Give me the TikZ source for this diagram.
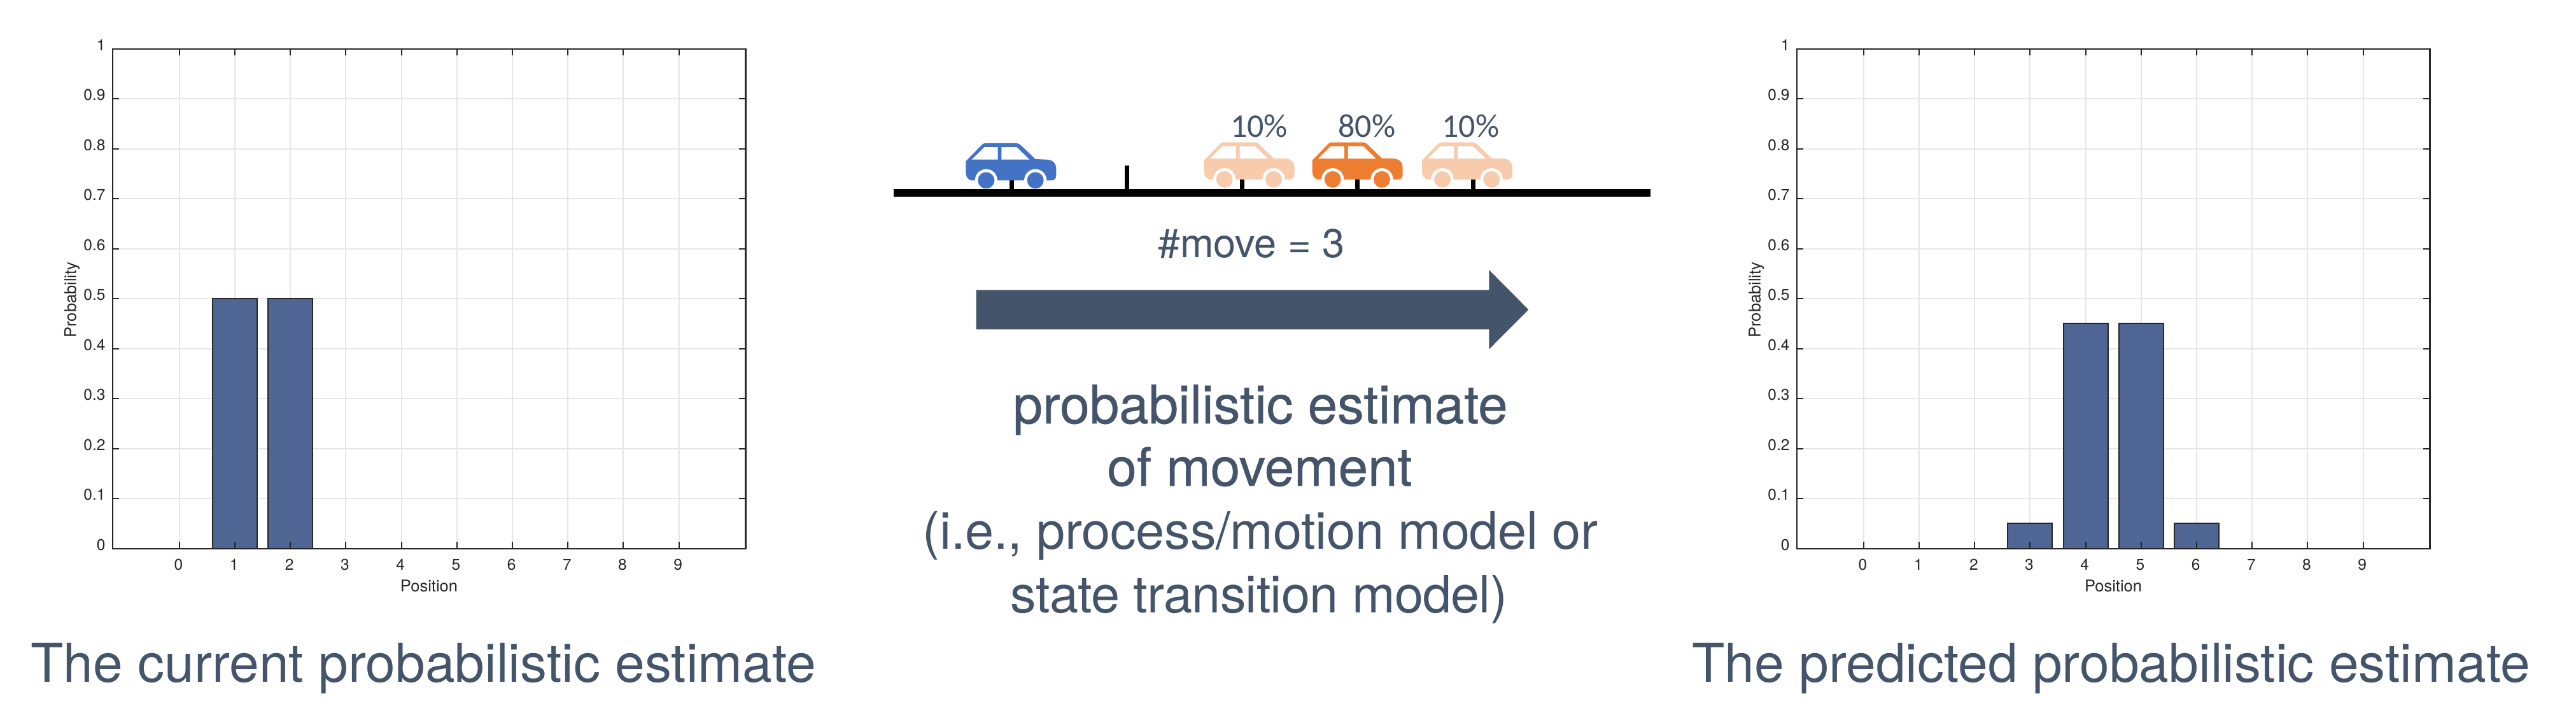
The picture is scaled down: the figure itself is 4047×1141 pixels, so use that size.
\documentclass[tikz,border=0pt]{standalone}
\usepackage{fontspec}
\setmainfont{TeX Gyre Heros}
\newfontfamily\medfont[FakeBold=0.6]{TeX Gyre Heros}
\newfontfamily\carlabelfont{Carlito}
\newfontfamily\tightA[LetterSpace=-0.2]{TeX Gyre Heros}
\newfontfamily\tightB[LetterSpace=-0.9]{TeX Gyre Heros}
\definecolor{slate}{HTML}{44546A}
\definecolor{barfill}{HTML}{4F6694}
\definecolor{axisink}{HTML}{262626}
\definecolor{gridink}{HTML}{E6E6E6}
\definecolor{carblue}{HTML}{4472C4}
\definecolor{carorange}{HTML}{ED7D31}
\definecolor{carpale}{HTML}{F8CBAD}
\tikzset{
  ticklabel/.style={font=\fontsize{24.5}{25}\selectfont,text=axisink,inner sep=0pt},
  axistitle/.style={font=\fontsize{25.5}{26}\selectfont,text=axisink,inner sep=0pt},
  slatetext/.style={text=slate,inner sep=0pt,anchor=base},
  bigcaption/.style={slatetext,font=\fontsize{84}{84}\selectfont},
  medtext/.style={slatetext,font=\medfont\fontsize{83.5}{84}\selectfont},
  carlabel/.style={slatetext,font=\carlabelfont\fontsize{52}{52}\selectfont},
  gridline/.style={draw=gridink,line width=2pt},
  axisline/.style={draw=axisink,line width=2.4pt},
  axistick/.style={draw=axisink,line width=2pt},
  bar/.style={fill=barfill,draw=axisink,line width=2pt},
  roadtick/.style={draw=black,line width=7pt},
}
\newcommand{\plotaxes}[1]{%
  \begin{scope}[shift={(#1,0)}]
    \foreach \v in {1,...,9} \draw[gridline] (0,{861.7-78.5*\v}) -- (994.6,{861.7-78.5*\v});
    \foreach \i in {0,...,9} \draw[gridline] ({105+87.2*\i},76.7) -- ({105+87.2*\i},861.7);
  \end{scope}}
\newcommand{\plotframe}[2]{%
  \begin{scope}[shift={(#1,0)}]
    \foreach \i in {0,...,9} {
      \draw[axistick] ({105+87.2*\i},861.7) -- ++(0,-10.5);
      \draw[axistick] ({105+87.2*\i},76.7) -- ++(0,10.5);
      \node[ticklabel,anchor=base] (#2x\i) at ({103.7+87.2*\i},895) {\i};
    }
    \foreach \v/\t in {0/0,1/0.1,2/0.2,3/0.3,4/0.4,5/0.5,6/0.6,7/0.7,8/0.8,9/0.9,10/1} {
      \draw[axistick] (0,{861.7-78.5*\v}) -- ++(10.5,0);
      \draw[axistick] (994.6,{861.7-78.5*\v}) -- ++(-10.5,0);
      \node[ticklabel,anchor=mid east] (#2y\v) at (-11,{861.7-78.5*\v}) {\t};
    }
    \draw[axisline] (0,76.7) rectangle (994.6,861.7);
    \node[axistitle] (#2xt) at (497.3,920) {Position};
    \node[axistitle,rotate=90] (#2yt) at (-63.5,471) {Probability};
  \end{scope}}
\newcommand{\probbar}[3]{%
  \draw[bar,shift={(#1,0)}] ({105+87.2*#2-35},861.7) rectangle ({105+87.2*#2+35},{861.7-785*#3});}
\newcommand{\carshape}[3]{%
  \begin{scope}[shift={(#1,#2)},x=0.3333pt,y=-0.3333pt]
    \fill[#3] (52,100) -- (125,25) .. controls (132,17) and (135,15) .. (145,15)
      -- (290,15) .. controls (300,15) and (305,18) .. (312,25) -- (380,90)
      -- (432,92) .. controls (462,92) and (478,110) .. (478,135) -- (478,165)
      .. controls (478,182) and (470,190) .. (455,190) -- (80,190)
      .. controls (62,188) and (52,175) .. (52,150) -- cycle;
    \fill[white] (80,92) -- (140,33) -- (203,33) -- (203,92) -- cycle;
    \fill[white] (220,92) -- (220,33) -- (292,33) -- (352,92) -- cycle;
    \fill[white] (148,190) circle[radius=53];
    \fill[white] (380,190) circle[radius=53];
    \fill[#3] (148,190) circle[radius=39];
    \fill[#3] (380,190) circle[radius=39];
  \end{scope}}
\begin{document}
\begin{tikzpicture}[x=1pt,y=-1pt]
\useasboundingbox (0,0) rectangle (4047,1141);
\plotaxes{176.7}
\probbar{176.7}{1}{0.5}
\probbar{176.7}{2}{0.5}
\plotframe{176.7}{L}
\plotaxes{2822.7}
\probbar{2822.7}{3}{0.05}
\probbar{2822.7}{4}{0.45}
\probbar{2822.7}{5}{0.45}
\probbar{2822.7}{6}{0.05}
\plotframe{2822.7}{R}
\node[bigcaption] (capL) at (665.3,1071) {The current probabilistic estimate};
\node[bigcaption] (capR) at (3316.6,1071) {The predicted probabilistic estimate};
\foreach \x in {1589,1770,1951.5,2132.5,2314} \draw[roadtick] (\x,260) -- (\x,300);
\carshape{1500}{220}{carblue}
\carshape{1874.3}{218.5}{carpale}
\carshape{2044.3}{218.5}{carorange}
\carshape{2216.7}{218.5}{carpale}
\fill[black] (1404,296.7) rectangle (2592.7,309);
\node[carlabel] (p1) at (1978,215) {10\%};
\node[carlabel] (p2) at (2147.3,215) {80\%};
\node[carlabel] (p3) at (2310.5,215) {10\%};
\node[slatetext,font=\fontsize{63}{63}\selectfont] (mv) at (1966,404) {\#move = 3};
\fill[slate] (1533.6,455.7) -- (2339.3,455.7) -- (2339.3,424) -- (2401.3,486.4) -- (2339.3,548.7) -- (2339.3,517.3) -- (1533.6,517.3) -- cycle;
\node[medtext] (t1) at (1980,665) {probabilistic estimate};
\node[medtext] (t2) at (1979,763) {of movement};
\node[slatetext,font=\tightA\fontsize{81}{81}\selectfont] (t3) at (1980,862) {(i.e., process/motion model or};
\node[slatetext,font=\tightB\fontsize{81}{81}\selectfont] (t4) at (1978,962) {state transition model)};
\end{tikzpicture}
\end{document}
